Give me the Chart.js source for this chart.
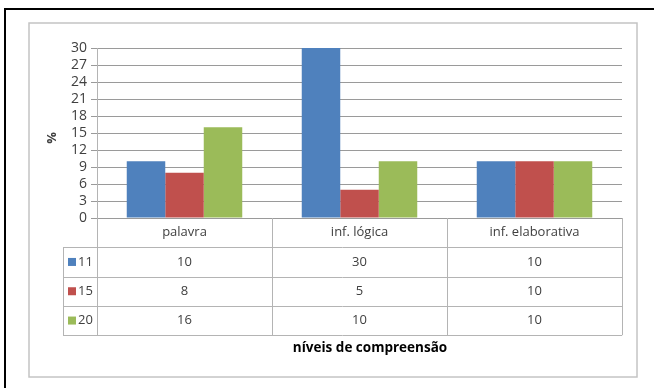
<!DOCTYPE html>
<html lang="pt">
<head>
<meta charset="UTF-8">
<title>Níveis de compreensão</title>
<script src="https://cdn.jsdelivr.net/npm/chart.js@4.4.3/dist/chart.umd.min.js"></script>
<style>
  html, body { margin: 0; padding: 0; background: #fff; }
  #wrap { width: 654px; height: 388px; position: relative; }
</style>
</head>
<body>
<div id="wrap"><canvas id="chart" width="654" height="388"></canvas></div>
<script>
// categories and series
const categories = ['palavra', 'inf. lógica', 'inf. elaborativa'];
const seriesNames = ['11', '15', '20'];
const serie11 = [10, 30, 10];
const serie15 = [8, 5, 10];
const serie20 = [16, 10, 10];
const seriesColors = ['#4F81BD', '#C0504D', '#9BBB59'];
const yTicks = [0, 3, 6, 9, 12, 15, 18, 21, 24, 27, 30];

const FONT = "'Open Sans', sans-serif";
const TEXT = '#404040';
const LINE = '#b4b4b4';

// frame, % title and the data table under the bars
const tablePlugin = {
  id: 'dataTable',
  beforeDraw(chart) {
    const ctx = chart.ctx;
    ctx.save();
    ctx.fillStyle = '#fff';
    ctx.fillRect(0, 0, chart.width, chart.height);
    // outer black frame (top and left visible)
    ctx.strokeStyle = '#000';
    ctx.lineWidth = 2;
    ctx.beginPath();
    ctx.moveTo(5, chart.height);
    ctx.lineTo(5, 9);
    ctx.lineTo(chart.width, 9);
    ctx.stroke();
    // chart area border
    ctx.strokeStyle = '#c4c4c4';
    ctx.lineWidth = 1.5;
    ctx.strokeRect(29, 23, 608, 354);
    ctx.restore();
  },
  afterDraw(chart) {
    const ctx = chart.ctx;
    const area = chart.chartArea;
    const x = chart.scales.x;
    const colW = (area.right - area.left) / categories.length;
    const rowH = 29.3;
    const top = area.bottom;
    const legendLeft = 63;
    const rows = [serie11, serie15, serie20];
    const tableBottom = top + rowH * (rows.length + 1);

    ctx.save();
    ctx.strokeStyle = LINE;
    ctx.lineWidth = 1;
    // vertical lines
    ctx.beginPath();
    for (let i = 0; i <= categories.length; i++) {
      const px = Math.round(area.left + colW * i) + 0.5;
      ctx.moveTo(px, top);
      ctx.lineTo(px, tableBottom);
    }
    ctx.moveTo(legendLeft + 0.5, top + rowH);
    ctx.lineTo(legendLeft + 0.5, tableBottom);
    // horizontal lines
    for (let r = 1; r <= rows.length + 1; r++) {
      const py = Math.round(top + rowH * r) + 0.5;
      ctx.moveTo(legendLeft, py);
      ctx.lineTo(area.right, py);
    }
    ctx.stroke();

    ctx.fillStyle = TEXT;
    ctx.font = '13px ' + FONT;
    ctx.textAlign = 'center';
    ctx.textBaseline = 'middle';
    categories.forEach((c, i) => {
      ctx.fillText(c, x.getPixelForValue(i), top + rowH / 2);
    });
    rows.forEach((vals, r) => {
      const cy = top + rowH * (r + 1.5);
      vals.forEach((v, i) => {
        ctx.fillText(String(v), x.getPixelForValue(i), cy);
      });
      // legend key
      ctx.fillStyle = seriesColors[r];
      ctx.fillRect(legendLeft + 5, cy - 4, 8, 8);
      ctx.fillStyle = TEXT;
      ctx.textAlign = 'left';
      ctx.fillText(seriesNames[r], legendLeft + 15, cy);
      ctx.textAlign = 'center';
    });

    // axis titles
    ctx.fillStyle = '#000';
    ctx.font = 'bold 13.5px ' + FONT;
    ctx.fillText('níveis de compreensão', 370, tableBottom + 13);

    ctx.translate(52, 138);
    ctx.rotate(-Math.PI / 2);
    ctx.fillStyle = TEXT;
    ctx.font = 'bold 13px ' + FONT;
    ctx.fillText('%', 0, 0);
    ctx.restore();
  }
};

new Chart(document.getElementById('chart'), {
  type: 'bar',
  data: {
    labels: categories,
    datasets: [
      { label: seriesNames[0], data: serie11, backgroundColor: seriesColors[0] },
      { label: seriesNames[1], data: serie15, backgroundColor: seriesColors[1] },
      { label: seriesNames[2], data: serie20, backgroundColor: seriesColors[2] }
    ]
  },
  options: {
    responsive: false,
    animation: false,
    layout: { padding: { top: 48, right: 32, bottom: 170, left: 0 } },
    datasets: { bar: { categoryPercentage: 0.66, barPercentage: 1.0 } },
    plugins: {
      legend: { display: false },
      tooltip: { enabled: false }
    },
    scales: {
      x: {
        display: false
      },
      y: {
        min: 0,
        max: 30,
        afterFit(scale) { scale.width = 97; },
        afterBuildTicks(scale) { scale.ticks = yTicks.map(v => ({ value: v })); },
        ticks: {
          color: TEXT,
          padding: 4,
          autoSkip: false,
          font: { family: FONT, size: 14 }
        },
        grid: {
          color: '#9a9a9a',
          lineWidth: 1,
          tickLength: 6,
          drawTicks: true
        },
        border: { display: true, color: LINE }
      }
    }
  },
  plugins: [tablePlugin]
});
</script>
</body>
</html>
